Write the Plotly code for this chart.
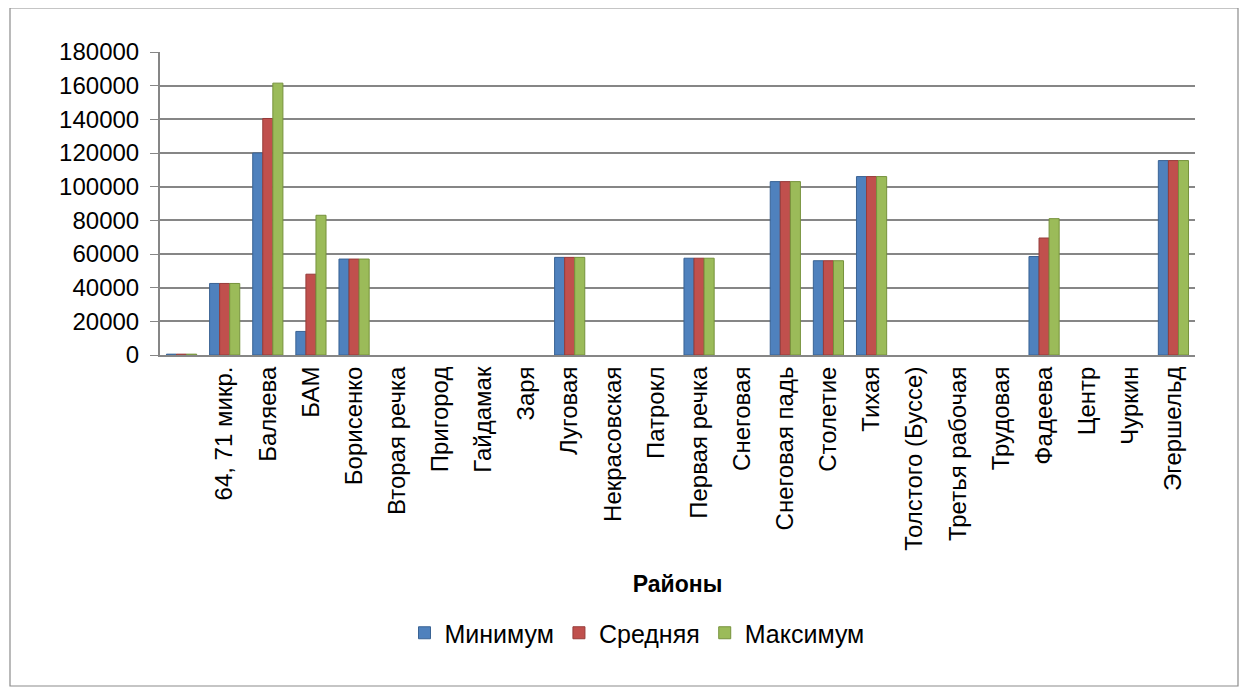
import plotly.graph_objects as go

categories = ["", "64, 71 микр.", "Баляева", "БАМ", "Борисенко", "Вторая речка", "Пригород",
              "Гайдамак", "Заря", "Луговая", "Некрасовская", "Патрокл", "Первая речка",
              "Снеговая", "Снеговая падь", "Столетие", "Тихая", "Толстого (Буссе)",
              "Третья рабочая", "Трудовая", "Фадеева", "Центр", "Чуркин", "Эгершельд"]
minimum = [500, 42500, 120000, 14000, 57000, None, None, None, None, 58000, None, None, 57500,
           None, 103000, 56000, 106000, None, None, None, 58500, None, None, 115500]
average = [500, 42500, 140500, 48000, 57000, None, None, None, None, 58000, None, None, 57500,
           None, 103000, 56000, 106000, None, None, None, 69500, None, None, 115500]
maximum = [500, 42500, 161500, 83000, 57000, None, None, None, None, 58000, None, None, 57500,
           None, 103000, 56000, 106000, None, None, None, 81000, None, None, 115500]
series_names = ["Минимум", "Средняя", "Максимум"]
y_ticks = [0, 20000, 40000, 60000, 80000, 100000, 120000, 140000, 160000, 180000]

colors = ["#4F81BD", "#C0504D", "#9BBB59"]
edge = ["#3A6394", "#963C3A", "#76923C"]
font = "Liberation Sans"

W, H = 1248, 696
ml, mr, mt, mb = 152, 61, 44, 349

fig = go.Figure()
for name, vals, c, e in zip(series_names, [minimum, average, maximum], colors, edge):
    fig.add_trace(go.Bar(x=categories, y=vals, name=name,
                         marker=dict(color=c, line=dict(color=e, width=1))))

pw = W - ml - mr
ph = H - mt - mb
fig.add_shape(type="rect", xref="paper", yref="paper",
              x0=(2 - ml) / pw, x1=(1230 - ml) / pw,
              y0=-(678 - mt - ph) / ph, y1=1 + mt / ph,
              line=dict(color="#8C8C8C", width=1.2), fillcolor="rgba(0,0,0,0)", layer="below")

fig.update_layout(
    width=W, height=H,
    margin=dict(l=ml, r=mr, t=mt, b=mb),
    paper_bgcolor="white", plot_bgcolor="white",
    barmode="group", bargap=0.3, bargroupgap=0,
    font=dict(family=font, color="black"),
    legend=dict(orientation="h", x=(629 - ml) / pw, xanchor="center",
                y=(mt + ph - 625) / ph, yanchor="middle",
                font=dict(size=25, family=font), traceorder="normal", itemwidth=30),
    showlegend=True,
)
fig.update_xaxes(
    type="category", tickangle=-90, tickfont=dict(size=24, family=font),
    showline=True, linecolor="#868686", linewidth=2, ticks="",
    title=dict(text="<b>Районы</b>", font=dict(size=23, family=font), standoff=26),
    showgrid=False,
)
fig.update_yaxes(
    range=[0, 180000], tickvals=y_ticks, ticktext=[str(v) for v in y_ticks],
    tickfont=dict(size=24, family=font), showgrid=True, gridcolor="#868686", gridwidth=2,
    showline=True, linecolor="#868686", linewidth=2, ticks="outside", ticklen=8,
    tickcolor="#868686", zeroline=False, ticklabelstandoff=6,
)
fig.write_html("out.html")
